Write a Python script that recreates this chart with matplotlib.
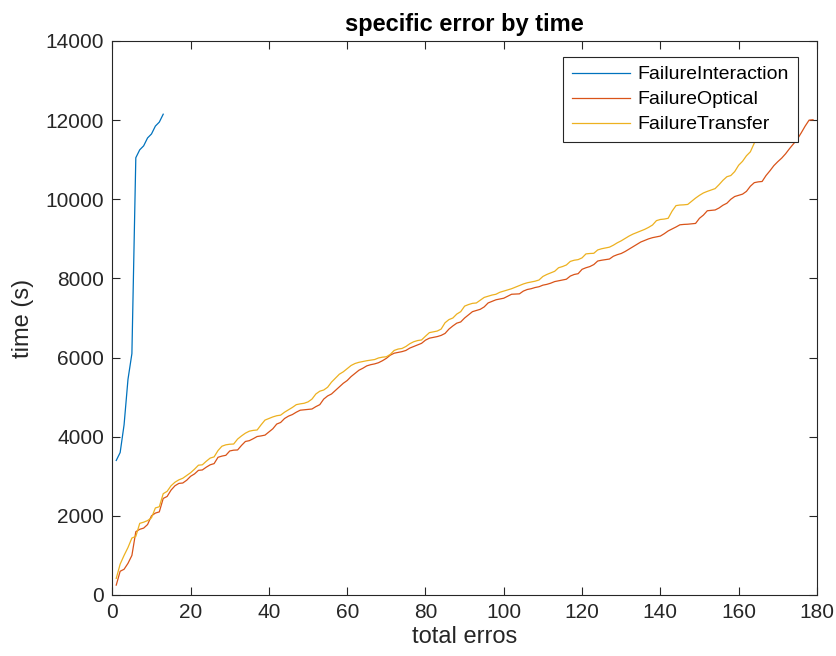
import matplotlib
matplotlib.use("Agg")
import matplotlib.pyplot as plt
from matplotlib import font_manager

names = {f.name for f in font_manager.fontManager.ttflist}
fam = [f for f in ["Liberation Sans Narrow", "Liberation Sans", "DejaVu Sans"] if f in names]
plt.rcParams['font.family'] = fam

title = "specific error by time"
xlabel = "total erros"
ylabel = "time (s)"
labels = ["FailureInteraction", "FailureOptical", "FailureTransfer"]

interaction = [3400, 3600, 4300, 5450, 6100, 11050, 11250, 11350, 11550, 11650,
               11850, 11950, 12150]

optical = [250, 600, 650, 800, 1000, 1600, 1660, 1690, 1780, 2000,
           2070, 2100, 2440, 2490, 2650, 2760, 2820, 2830, 2900, 3000,
           3060, 3150, 3160, 3230, 3290, 3320, 3480, 3510, 3530, 3640,
           3660, 3665, 3780, 3880, 3900, 3950, 4005, 4020, 4040, 4120,
           4200, 4320, 4360, 4460, 4520, 4560, 4620, 4670, 4680, 4690,
           4700, 4760, 4810, 4950, 5030, 5080, 5170, 5260, 5350, 5420,
           5520, 5600, 5680, 5730, 5790, 5820, 5840, 5870, 5920, 5980,
           6060, 6110, 6130, 6150, 6180, 6240, 6280, 6320, 6360, 6440,
           6490, 6510, 6530, 6560, 6610, 6720, 6800, 6870, 6900, 7000,
           7080, 7160, 7190, 7220, 7280, 7380, 7420, 7460, 7480, 7500,
           7550, 7600, 7605, 7610, 7680, 7720, 7740, 7770, 7790, 7830,
           7850, 7880, 7920, 7940, 7960, 7980, 8060, 8100, 8120, 8230,
           8270, 8300, 8350, 8440, 8460, 8475, 8490, 8560, 8600, 8630,
           8680, 8740, 8800, 8860, 8920, 8960, 9000, 9030, 9050, 9070,
           9130, 9200, 9250, 9300, 9355, 9365, 9370, 9380, 9390, 9520,
           9600, 9710, 9720, 9730, 9780, 9850, 9900, 10000, 10070, 10100,
           10130, 10200, 10330, 10420, 10440, 10450, 10600, 10720, 10850, 10950,
           11040, 11150, 11280, 11400, 11520, 11680, 11850, 12000, 12010]

transfer = [420, 780, 1000, 1200, 1440, 1480, 1810, 1840, 1880, 1950,
            2200, 2230, 2560, 2620, 2760, 2850, 2910, 2950, 3020, 3090,
            3180, 3280, 3290, 3380, 3460, 3490, 3650, 3760, 3795, 3810,
            3815, 3940, 4020, 4090, 4140, 4160, 4170, 4300, 4420, 4460,
            4500, 4530, 4545, 4620, 4680, 4740, 4810, 4830, 4845, 4880,
            4950, 5080, 5150, 5180, 5250, 5380, 5480, 5580, 5640, 5720,
            5800, 5850, 5880, 5900, 5920, 5935, 5950, 5990, 6010, 6020,
            6080, 6180, 6215, 6230, 6280, 6350, 6400, 6430, 6445, 6540,
            6630, 6650, 6670, 6720, 6880, 6960, 7000, 7100, 7160, 7300,
            7340, 7370, 7380, 7450, 7520, 7550, 7580, 7600, 7650, 7680,
            7710, 7740, 7780, 7820, 7860, 7890, 7910, 7930, 7960, 8050,
            8100, 8140, 8180, 8270, 8300, 8340, 8430, 8460, 8475, 8520,
            8620, 8630, 8635, 8720, 8750, 8770, 8790, 8840, 8900, 8950,
            9010, 9070, 9120, 9160, 9200, 9240, 9290, 9350, 9460, 9490,
            9500, 9520, 9700, 9840, 9855, 9860, 9870, 9950, 10030, 10100,
            10160, 10200, 10235, 10270, 10370, 10480, 10570, 10600, 10700, 10860,
            10960, 11100, 11200, 11420, 11700, 11950]

series = [interaction, optical, transfer]
colors = ["#0072BD", "#D95319", "#EDB120"]

fig = plt.figure(figsize=(8.37, 6.56), dpi=100)
ax = fig.add_axes([0.1342, 0.093, 0.8418, 0.8445])

for vals, lab, col in zip(series, labels, colors):
    ax.plot(range(1, len(vals) + 1), vals, color=col, lw=0.9, label=lab)

ax.set_xlim(0, 180)
ax.set_ylim(0, 14000)
ax.set_xticks(range(0, 181, 20))
ax.set_yticks(range(0, 14001, 2000))

gray = (0.15, 0.15, 0.15)
for s in ax.spines.values():
    s.set_color(gray)
    s.set_linewidth(0.8)
ax.tick_params(direction='in', top=True, right=True, length=6, width=0.8,
               colors=gray, labelsize=15, labelcolor=gray, pad=6)

ax.set_title(title, fontsize=17, fontweight='bold', pad=7)
ax.set_xlabel(xlabel, fontsize=17, color=gray, labelpad=3)
ax.set_ylabel(ylabel, fontsize=17, color=gray, labelpad=8)

leg = ax.legend(loc='upper right', bbox_to_anchor=(0.973, 0.971), fontsize=14,
                frameon=True, fancybox=False, framealpha=1, edgecolor=gray,
                handlelength=3.0, borderpad=0.45, labelspacing=0.38,
                handletextpad=0.4, borderaxespad=0)
leg.get_frame().set_linewidth(0.8)

fig.savefig("out.png", dpi=100)
